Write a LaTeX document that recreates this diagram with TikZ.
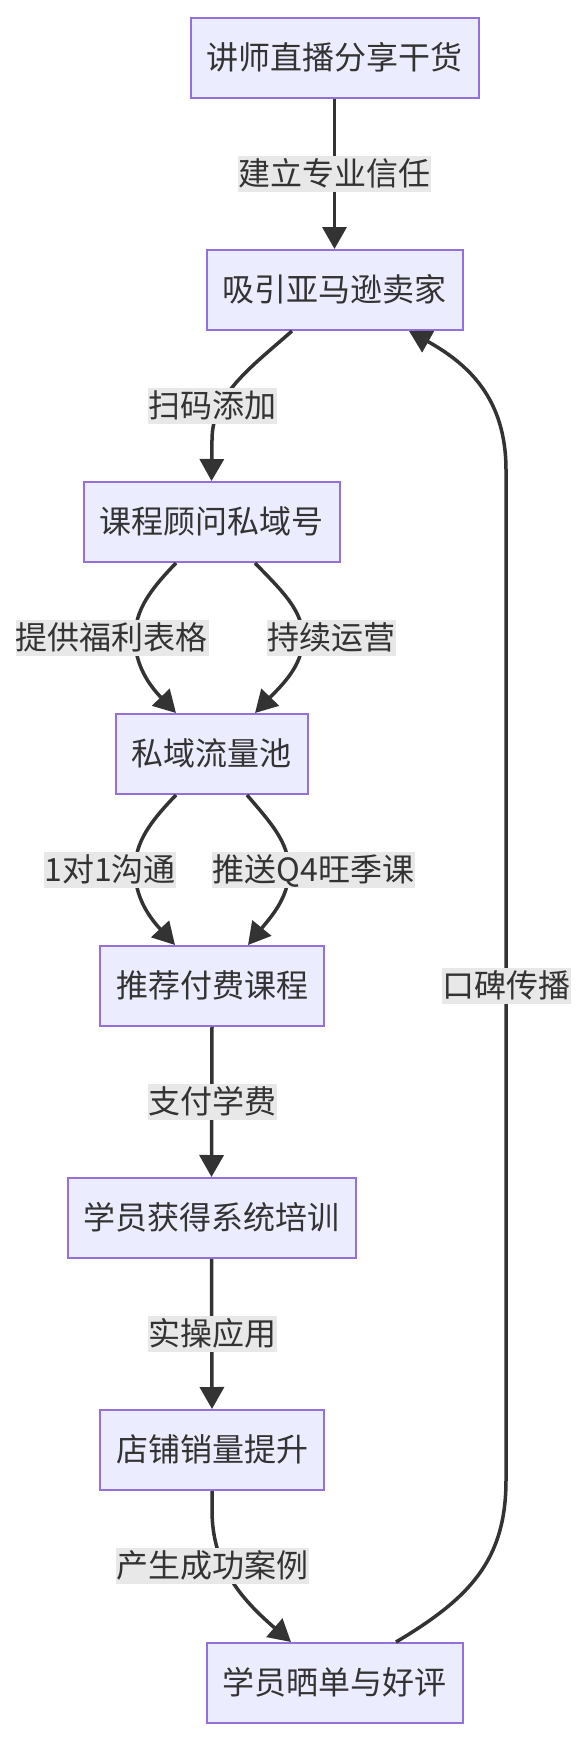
\documentclass[tikz,border=0pt]{standalone}
\usepackage{fontspec}
\setmainfont{Noto Sans CJK SC}
\usetikzlibrary{arrows.meta,calc}
\definecolor{boxfill}{HTML}{ECECFF}
\definecolor{boxline}{HTML}{9370DB}
\definecolor{edgec}{HTML}{333333}
\definecolor{lblbg}{HTML}{E8E8E8}
\tikzset{
  flowbox/.style={draw=boxline, fill=boxfill, line width=2pt, minimum height=80pt,
    inner xsep=16pt, inner ysep=0pt, text=edgec, font=\fontsize{32pt}{38pt}\selectfont,
    text height=28pt, text depth=5pt},
  edgelbl/.style={fill=lblbg, inner xsep=0.5pt, inner ysep=1.5pt, text=edgec,
    font=\fontsize{32pt}{38pt}\selectfont, text height=28pt, text depth=5pt},
  flowedge/.style={draw=edgec, line width=3.5pt, -{Triangle[length=22pt,width=24pt]}}
}
\begin{document}
\begin{tikzpicture}[x=1pt,y=-1pt]
\fill[white] (0,0) rectangle (588,1742);
\useasboundingbox (0,0) rectangle (588,1742);

% nodes
\node[flowbox] (n1) at (334.5,58) {讲师直播分享干货};
\node[flowbox] (n2) at (334.5,290) {吸引亚马逊卖家};
\node[flowbox] (n3) at (211.5,522) {课程顾问私域号};
\node[flowbox] (n4) at (211.5,754) {私域流量池};
\node[flowbox] (n5) at (212,986) {推荐付费课程};
\node[flowbox] (n6) at (211.5,1218) {学员获得系统培训};
\node[flowbox] (n7) at (212,1450) {店铺销量提升};
\node[flowbox] (n8) at (334.5,1683) {学员晒单与好评};

% edges
\draw[flowedge] (n1.south) -- (n2.north);
\draw[flowedge] ($(n2.south)+(-42.5,0)$) .. controls (250,368) and (212,395) .. (212,440) -- (n3.north);
\draw[flowedge] ($(n3.south)+(-35.5,0)$) .. controls (150,590) and (135,610) .. (135,638)
   .. controls (135,666) and (150,686) .. ($(n4.north)+(-35.5,0)$);
\draw[flowedge] ($(n3.south)+(43.5,0)$) .. controls (281,590) and (303,610) .. (303,638)
   .. controls (303,666) and (281,686) .. ($(n4.north)+(43.5,0)$);
\draw[flowedge] ($(n4.south)+(-35.5,0)$) .. controls (150,822) and (135,842) .. (135,870)
   .. controls (135,898) and (150,918) .. ($(n5.north)+(-37,0)$);
\draw[flowedge] ($(n4.south)+(35.5,0)$) .. controls (270,822) and (289,842) .. (289,870)
   .. controls (289,898) and (270,918) .. ($(n5.north)+(36,0)$);
\draw[flowedge] (n5.south) -- (n6.north);
\draw[flowedge] (n6.south) -- (n7.north);
\draw[flowedge] (n7.south) -- (212,1510) .. controls (212,1565) and (240,1598) .. ($(n8.north)+(-43.5,0)$);
\draw[flowedge] ($(n8.north)+(61.5,0)$) .. controls (470,1598) and (506,1560) .. (506,1480)
   -- (506,470) .. controls (506,400) and (470,365) .. ($(n2.south)+(74.5,0)$);

% edge labels
\node[edgelbl] (l1) at (334.5,174) {建立专业信任};
\node[edgelbl] (l2) at (212,406) {扫码添加};
\node[edgelbl] (l3) at (112,638) {提供福利表格};
\node[edgelbl] (l4) at (331.5,638) {持续运营};
\node[edgelbl] (l5) at (110,870) {1对1沟通};
\node[edgelbl] (l6) at (313.5,870) {推送Q4旺季课};
\node[edgelbl] (l7) at (212,1102) {支付学费};
\node[edgelbl] (l8) at (212,1334) {实操应用};
\node[edgelbl] (l9) at (212,1566) {产生成功案例};
\node[edgelbl] (l10) at (506,986) {口碑传播};
\end{tikzpicture}
\end{document}
